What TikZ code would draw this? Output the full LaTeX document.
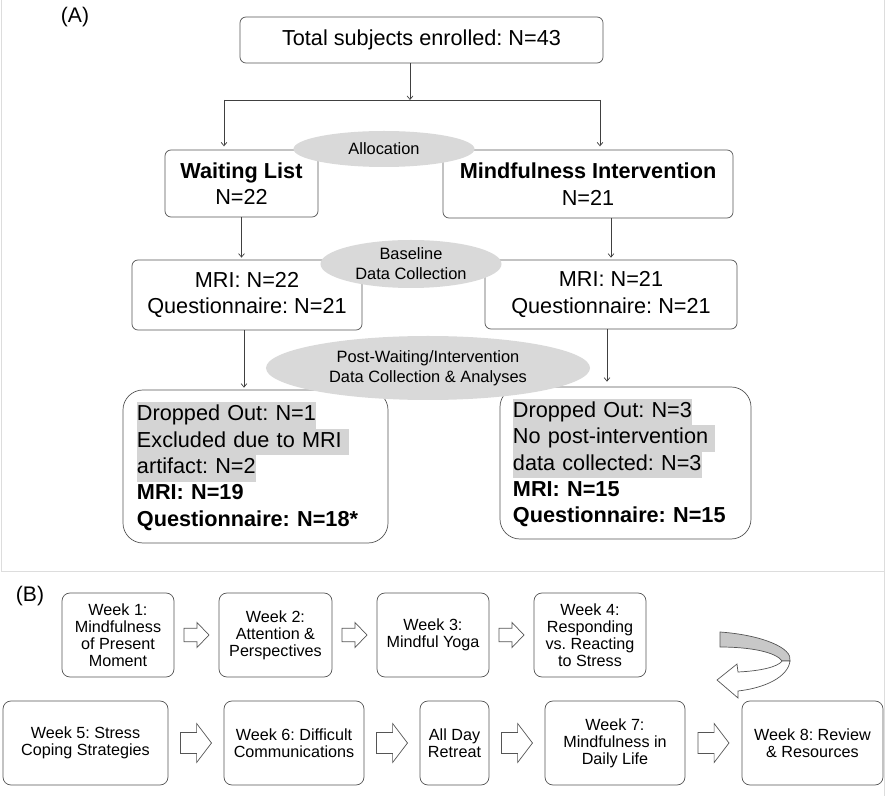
\documentclass[tikz,border=0pt]{standalone}
\usepackage{fontspec}
\setmainfont{Liberation Sans}
\usepackage{tikz}
\usetikzlibrary{calc,positioning,shapes,arrows.meta}

\definecolor{linegray}{HTML}{404040}
\definecolor{boxgray}{HTML}{555555}
\definecolor{ellgray}{HTML}{D9D9D9}
\definecolor{hlgray}{HTML}{D4D4D4}
\definecolor{framegray}{HTML}{DDDDDD}
\definecolor{bandgray}{HTML}{C8C8C8}

\newcommand{\hlbox}[1]{{\setlength{\fboxsep}{0pt}\colorbox{hlgray}{\strut#1}}}
\frenchspacing

\begin{document}
\begin{tikzpicture}[x=0.03cm, y=-0.03cm,
    abox/.style={draw=boxgray, line width=0.6pt, rounded corners=0.18cm, align=center, inner sep=0pt,
      font=\fontsize{18.5}{22.5}\selectfont},
    outbox/.style={abox, rounded corners=0.6cm, align=left},
    oval/.style={ellipse, fill=ellgray, inner sep=0pt, align=center, font=\fontsize{14}{17}\selectfont},
    wbox/.style={draw=boxgray, line width=0.6pt, rounded corners=0.24cm, align=center, inner sep=0pt,
      minimum height=2.52cm, font=\fontsize{13.8}{14.4}\selectfont},
    link/.style={draw=linegray, line width=0.6pt},
    conn/.style={link, -{Straight Barb[length=3pt,width=5pt]}},
    blockarr/.pic={\draw[draw=boxgray, line width=0.6pt, fill=white]
      (-0.5,-0.27) -- (0.02,-0.27) -- (0.02,-0.5) -- (0.5,0) -- (0.02,0.5) -- (0.02,0.27) -- (-0.5,0.27) -- cycle;}]
    \useasboundingbox (0,0) rectangle (886,796);
    % frames
    \draw[framegray, line width=0.8pt] (1.5,0) -- (1.5,571) -- (884.5,571);
    \draw[framegray, line width=0.8pt] (884.5,0) -- (884.5,796);

    % (A) study flow
    \node at (75,17.5) {\fontsize{18}{20}\selectfont (A)};
    \node (total) at (421.5,40) [abox, minimum width=10.89cm, minimum height=1.38cm] {Total subjects enrolled: N=43};
    \node (wl) at (241.5,183.5) [abox, minimum width=4.59cm, minimum height=2.01cm] {\textbf{Waiting List}\\N=22};
    \node (mi) at (588,184) [abox, minimum width=8.70cm, minimum height=2.04cm] {\textbf{Mindfulness Intervention}\\N=21};
    \node (mril) at (247,295) [abox, minimum width=6.90cm, minimum height=2.10cm] {MRI: N=22\\Questionnaire: N=21};
    \node (mrir) at (611,294.5) [abox, minimum width=7.56cm, minimum height=2.07cm] {MRI: N=21\\Questionnaire: N=21};
    \node (outl) at (255.5,466.5) [outbox, minimum width=7.95cm, minimum height=4.59cm, inner xsep=0.42cm, text width=7.11cm]
      {\hlbox{Dropped Out: N=1}\\\hlbox{Excluded due to MRI\ }\\\hlbox{artifact: N=2}\\\textbf{MRI: N=19}\\\textbf{Questionnaire: N=18*}};
    \node (outr) at (625.5,463) [outbox, minimum width=7.53cm, minimum height=4.56cm, inner xsep=0.39cm, text width=6.75cm]
      {\hlbox{Dropped Out: N=3}\\\hlbox{No post-intervention\ }\\\hlbox{data collected: N=3}\\\textbf{MRI: N=15}\\\textbf{Questionnaire: N=15}};

    \coordinate (split) at (410,100);
    \coordinate (splitl) at (224,100);
    \coordinate (splitr) at (600,100);
    \draw[conn] (total.south -| split) -- (split);
    \draw[link] (splitl) -- (splitr);
    \draw[conn, shorten >=0.1cm] (splitl) -- (splitl |- wl.north);
    \draw[conn, shorten >=0.1cm] (splitr) -- (splitr |- mi.north);
    \draw[conn, shorten >=0.06cm] (wl.south) -- (wl.south |- mril.north);
    \draw[conn, shorten >=0.06cm] (mrir.north |- mi.south) -- (mrir.north);
    \draw[conn, shorten >=0.06cm] ([xshift=-0.09cm]mril.south) -- ([xshift=-0.09cm]mril.south |- outl.north);
    \draw[conn, shorten >=0.15cm] ([xshift=-0.12cm]mrir.south) -- ([xshift=-0.12cm]mrir.south |- outr.north);

    \node (alloc) at (384,149) [oval, minimum width=5.43cm, minimum height=1.08cm] {Allocation};
    \node (base) at (411,264) [oval, minimum width=5.43cm, minimum height=1.44cm] {Baseline\\Data Collection};
    \node (post) at (428,368) [oval, minimum width=9.72cm, minimum height=1.92cm] {Post-Waiting/Intervention\\Data Collection \& Analyses};

    % (B) weekly program
    \node at (30,596) {\fontsize{18}{20}\selectfont (B)};
    \node (w1) at (118,635) [wbox, minimum width=3.36cm] {Week 1:\\Mindfulness\\of Present\\Moment};
    \node (w2) at (275.5,635) [wbox, minimum width=3.39cm] {Week 2:\\Attention \&\\Perspectives};
    \node (w3) at (433,635) [wbox, minimum width=3.36cm] {Week 3:\\Mindful Yoga};
    \node (w4) at (590,635) [wbox, minimum width=3.36cm] {Week 4:\\Responding\\vs. Reacting\\to Stress};
    \node (w5) at (85.5,743) [wbox, minimum width=4.95cm] {Week 5: Stress\\Coping Strategies};
    \node (w6) at (294,743) [wbox, minimum width=4.20cm] {Week 6: Difficult\\Communications};
    \node (ret) at (454.5,743) [wbox, minimum width=2.07cm] {All Day\\Retreat};
    \node (w7) at (615,743) [wbox, minimum width=4.20cm] {Week 7:\\Mindfulness in\\Daily Life};
    \node (w8) at (812.5,743) [wbox, minimum width=4.23cm] {Week 8: Review\\\& Resources};

    \pic[xscale=25, yscale=25] at ($(w1.east)!0.5!(w2.west)$) {blockarr};
    \pic[xscale=25, yscale=25] at ($(w2.east)!0.5!(w3.west)$) {blockarr};
    \pic[xscale=25, yscale=25] at ($(w3.east)!0.5!(w4.west)$) {blockarr};
    \pic[xscale=31, yscale=39] at ($(w5.east)!0.5!(w6.west)$) {blockarr};
    \pic[xscale=31, yscale=39] at ($(w6.east)!0.5!(ret.west)$) {blockarr};
    \pic[xscale=31, yscale=39] at ($(ret.east)!0.5!(w7.west)$) {blockarr};
    \pic[xscale=31, yscale=39] at ($(w7.east)!0.5!(w8.west)$) {blockarr};

    % turn-around arrow
    \draw[draw=boxgray, line width=0.6pt, fill=bandgray]
      (720,632) .. controls (762,635) and (793,648) .. (790,661) -- (782,661)
      .. controls (776,652) and (750,647) .. (720,647) -- cycle;
    \draw[draw=boxgray, line width=0.6pt, fill=white]
      (790,661) .. controls (788,677) and (765,688) .. (738,691) -- (738,698) -- (717,680)
      -- (737,664) -- (738,672) .. controls (760,671) and (778,667) .. (782,661) -- cycle;
\end{tikzpicture}
\end{document}
